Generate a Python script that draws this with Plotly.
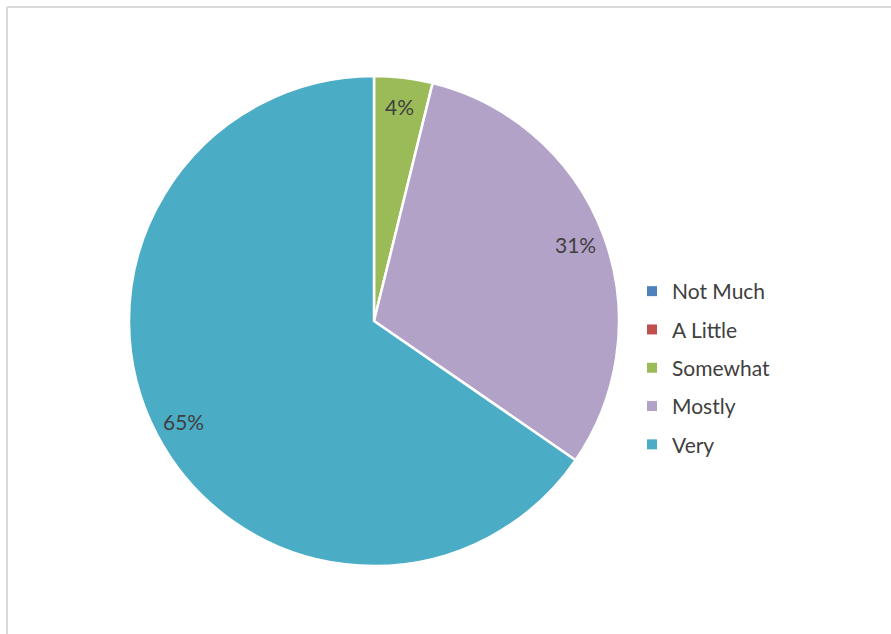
import math
import plotly.graph_objects as go

categories = ["Not Much", "A Little", "Somewhat", "Mostly", "Very"]
counts = [0, 0, 1, 8, 17]
colors = ["#4F81BD", "#C0504D", "#9BBB59", "#B3A2C7", "#4BACC6"]

W, H = 891, 634
CX, CY, R = 374, 313, 245  # pie centre (px from left / bottom) and radius
FONT = "Lato"
TXT = "#404040"

fig = go.Figure()
fig.add_trace(go.Pie(
    labels=categories, values=counts, sort=False, direction="clockwise", rotation=0,
    marker=dict(colors=colors, line=dict(color="white", width=2.5)),
    textinfo="none", hoverinfo="label+percent", showlegend=False,
    domain=dict(x=[(CX - R) / W, (CX + R) / W], y=[(CY - R) / H, (CY + R) / H]),
))

# percentage labels placed along each slice's mid angle
total = sum(counts)
cum = 0
for c in counts:
    if c > 0:
        mid = (cum + c / 2) / total * 2 * math.pi
        rr = 0.88 * R
        fig.add_annotation(
            x=(CX + rr * math.sin(mid)) / W, y=(CY + rr * math.cos(mid)) / H,
            xref="paper", yref="paper", xanchor="center", yanchor="middle",
            text=f"{round(c / total * 100)}%",
            showarrow=False, font=dict(family=FONT, size=21, color=TXT),
        )
    cum += c

# legend entries
for i, (cat, col) in enumerate(zip(categories, colors)):
    fig.add_trace(go.Scatter(
        x=[None], y=[None], mode="markers", name=cat, legendgroup=str(i),
        marker=dict(symbol="square", size=10, color=col), showlegend=True,
    ))

fig.add_shape(type="line", xref="paper", yref="paper", x0=7 / W, x1=1, y0=(H - 7) / H, y1=(H - 7) / H,
              line=dict(color="#D9D9D9", width=2))
fig.add_shape(type="line", xref="paper", yref="paper", x0=7 / W, x1=7 / W, y0=0, y1=(H - 7) / H,
              line=dict(color="#D9D9D9", width=2))

fig.update_layout(
    width=W, height=H, margin=dict(l=0, r=0, t=0, b=0),
    paper_bgcolor="white", plot_bgcolor="white",
    xaxis=dict(visible=False), yaxis=dict(visible=False),
    legend=dict(x=632 / W, xanchor="left", y=(H - 368) / H, yanchor="middle",
                font=dict(family=FONT, size=21, color=TXT), tracegroupgap=8,
                itemwidth=30),
)

fig.write_html("out.html", config={"displayModeBar": False},
               post_script="document.body.style.margin='0px';")
